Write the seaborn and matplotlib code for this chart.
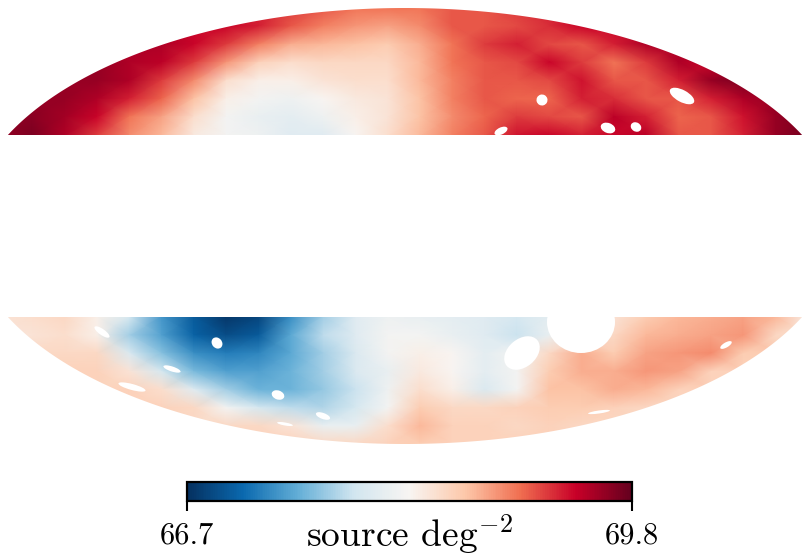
import matplotlib
matplotlib.use("Agg")
import matplotlib.pyplot as plt
import seaborn as sns
import numpy as np
from matplotlib.patches import Ellipse

# source density, north cap then south cap (rows run top to bottom)
north_density = [
    [69.4, 69.4, 69.4, 69.4, 69.4, 69.4, 69.4, 69.3, 69.3, 69.2, 69.1, 69.0, 69.0, 69.0, 69.1, 69.1, 69.2, 69.3, 69.4, 69.4, 69.4, 69.4, 69.4, 69.4, 69.4, 69.4],
    [69.5, 69.5, 69.5, 69.5, 69.5, 69.5, 69.4, 69.4, 69.3, 69.1, 68.95, 68.85, 68.8, 68.9, 69.1, 69.1, 69.15, 69.25, 69.4, 69.4, 69.5, 69.5, 69.5, 69.5, 69.5, 69.5],
    [69.5, 69.5, 69.5, 69.5, 69.5, 69.5, 69.4, 69.2, 68.95, 68.75, 68.7, 68.65, 68.6, 68.75, 69.0, 69.2, 69.3, 69.15, 69.1, 69.3, 69.5, 69.5, 69.5, 69.5, 69.5, 69.5],
    [69.6, 69.6, 69.6, 69.6, 69.5, 69.45, 69.2, 68.85, 68.55, 68.45, 68.5, 68.5, 68.5, 68.7, 69.0, 69.1, 69.15, 69.4, 69.2, 69.0, 69.2, 69.5, 69.4, 69.5, 69.5, 69.5],
    [69.6, 69.6, 69.6, 69.6, 69.5, 69.2, 68.9, 68.45, 68.3, 68.3, 68.4, 68.45, 68.45, 68.7, 68.95, 69.1, 69.1, 69.15, 69.35, 69.1, 69.1, 69.3, 69.6, 69.7, 69.7, 69.7],
    [69.6, 69.6, 69.6, 69.5, 69.3, 69.05, 68.65, 68.3, 68.2, 68.15, 68.25, 68.35, 68.4, 68.65, 68.95, 69.1, 69.05, 69.05, 69.3, 69.25, 69.1, 69.1, 69.3, 69.5, 69.6, 69.6],
    [69.65, 69.65, 69.55, 69.4, 69.0, 68.8, 68.45, 68.2, 68.1, 68.05, 68.15, 68.3, 68.4, 68.65, 68.9, 69.05, 69.2, 69.15, 69.1, 69.45, 69.3, 69.05, 69.1, 69.35, 69.6, 69.7],
    [69.6, 69.7, 69.5, 69.2, 68.9, 68.7, 68.35, 68.2, 68.15, 68.0, 68.0, 68.25, 68.45, 68.7, 68.95, 69.1, 69.35, 69.4, 69.3, 69.4, 69.45, 69.1, 69.1, 69.3, 69.6, 69.75],
]
south_density = [
    [68.4, 68.45, 68.5, 68.3, 67.9, 67.35, 67.0, 66.75, 66.85, 67.3, 67.7, 68.0, 68.15, 68.1, 68.05, 68.0, 67.9, 68.05, 68.2, 68.4, 68.6, 68.7, 68.75, 68.8, 68.7, 68.3],
    [68.4, 68.4, 68.45, 68.3, 67.7, 67.4, 67.05, 66.9, 67.0, 67.45, 67.8, 68.0, 68.2, 68.2, 68.1, 68.0, 67.85, 68.1, 68.3, 68.5, 68.7, 68.75, 68.8, 68.85, 68.5, 68.5],
    [68.5, 68.5, 68.5, 68.5, 67.95, 67.6, 67.3, 67.2, 67.25, 67.45, 67.7, 67.95, 68.2, 68.3, 68.25, 68.05, 68.2, 68.5, 68.75, 68.6, 68.8, 68.85, 68.9, 68.6, 68.6, 68.6],
    [68.55, 68.55, 68.55, 68.55, 68.4, 67.9, 67.55, 67.4, 67.4, 67.5, 67.7, 67.95, 68.1, 68.35, 68.25, 68.05, 68.2, 68.6, 68.75, 68.75, 68.85, 68.8, 68.55, 68.55, 68.55, 68.55],
    [68.55, 68.55, 68.55, 68.55, 68.55, 68.45, 68.0, 67.7, 67.5, 67.5, 67.65, 67.85, 68.15, 68.45, 68.3, 67.95, 68.2, 68.65, 68.65, 68.75, 68.7, 68.55, 68.55, 68.55, 68.55, 68.55],
    [68.55, 68.55, 68.55, 68.55, 68.55, 68.55, 68.5, 68.2, 67.9, 67.8, 67.75, 67.9, 68.2, 68.6, 68.5, 68.5, 68.55, 68.6, 68.6, 68.55, 68.5, 68.5, 68.5, 68.5, 68.5, 68.5],
    [68.5, 68.5, 68.5, 68.5, 68.5, 68.5, 68.5, 68.5, 68.5, 68.4, 68.1, 68.1, 68.45, 68.7, 68.55, 68.55, 68.5, 68.55, 68.5, 68.5, 68.5, 68.5, 68.5, 68.5, 68.5, 68.5],
    [68.55, 68.55, 68.55, 68.55, 68.55, 68.55, 68.55, 68.55, 68.55, 68.55, 68.5, 68.5, 68.55, 68.6, 68.55, 68.55, 68.55, 68.55, 68.55, 68.55, 68.55, 68.55, 68.55, 68.55, 68.55, 68.55],
]
density_min = 66.7
density_max = 69.8

# masked patches of sky: centre, width, height, tilt
hole_x = [542, 682, 501, 608, 636, 217, 172, 132, 278, 323, 285, 102, 522, 581, 726, 599]
hole_y = [100, 96, 131, 128, 127, 343, 369, 387, 395, 416, 424, 332, 353, 322, 345, 412]
hole_w = [11, 27, 7, 15, 11, 12, 18, 28, 13, 15, 16, 18, 40, 68, 13, 22]
hole_h = [11, 12, 14, 10, 9, 10, 5, 6, 9, 6, 3, 6, 28, 62, 5, 3]
hole_tilt = [30, 28, 65, 20, 30, 50, 18, 15, 20, 20, 10, 35, -40, 0, -30, -8]

W, H = 808, 557
CX, CY, A, B = 405, 226, 437, 218

# colours taken from the reference colour bar
bar_colors = ["#05305f", "#0a69af", "#64afd7", "#d2e6f0", "#f8f5f2",
              "#fdc8aa", "#f06e50", "#c80028", "#64001e"]
density_cmap = sns.blend_palette(bar_colors, as_cmap=True)

plt.rcParams["font.family"] = ["cmr10", "DejaVu Sans"]
plt.rcParams["mathtext.fontset"] = "cm"
plt.rcParams["axes.formatter.use_mathtext"] = True

fig = plt.figure(figsize=(W / 100, H / 100), dpi=100)
overlay = fig.add_axes([0, 0, 1, 1], zorder=5)
overlay.axis("off")
overlay.patch.set_alpha(0)


def draw_cap(values, top, bottom):
    ax = fig.add_axes([0, 1 - bottom / H, 1, (bottom - top) / H])
    sns.heatmap(np.array(values), ax=ax, cmap=density_cmap, vmin=density_min, vmax=density_max,
                cbar=False, xticklabels=False, yticklabels=False, shading="gouraud")
    ax.set_xlim(0, len(values[0]) - 1)
    ax.set_ylim(len(values) - 1, 0)
    ax.axis("off")
    return ax.collections[0]


mesh = draw_cap(north_density, 8, 135)
draw_cap(south_density, 317, 444)

# white out everything beyond the Mollweide outline
edge_x = np.linspace(0, W, 400)
edge_dy = B * np.sqrt(1 - ((edge_x - CX) / A) ** 2)
overlay.fill_between(edge_x, 0, CY - edge_dy, color="white", lw=0)
overlay.fill_between(edge_x, CY + edge_dy, 455, color="white", lw=0)

for x, y, w, h, t in zip(hole_x, hole_y, hole_w, hole_h, hole_tilt):
    overlay.add_patch(Ellipse((x, y), w, h, angle=t, color="white", lw=0))
overlay.set_xlim(0, W)
overlay.set_ylim(H, 0)

cax = fig.add_axes([187 / W, 1 - 501 / H, (632 - 187) / W, 19 / H])
cbar = fig.colorbar(mesh, cax=cax, orientation="horizontal", ticks=[density_min, density_max])
cbar.ax.set_xticklabels(["66.7", "69.8"], fontsize=22)
cbar.ax.tick_params(length=7.5, width=1.5, pad=8, color="black")
cbar.outline.set_linewidth(1.6)
cbar.set_label(r"source deg$^{-2}$", fontsize=27, labelpad=-27)

fig.savefig("out.png", dpi=100, facecolor="white")
